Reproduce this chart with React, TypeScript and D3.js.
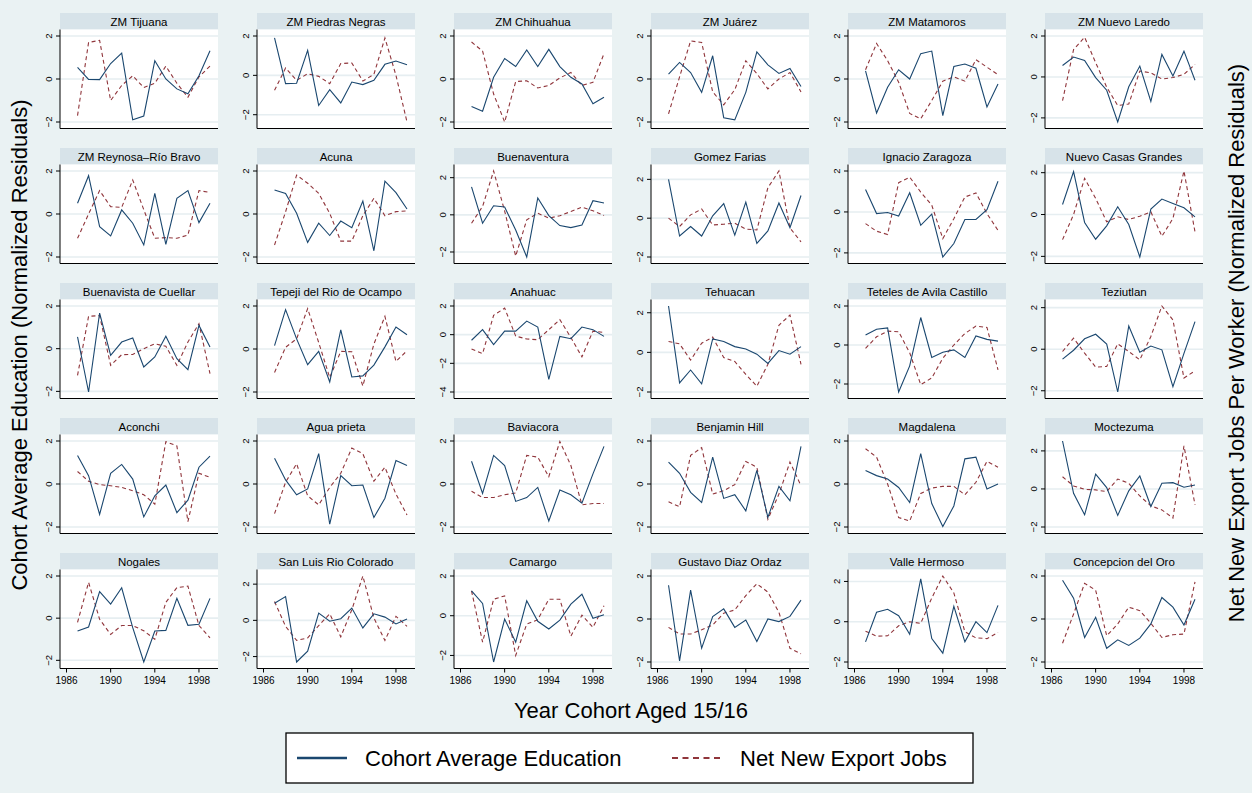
import React from 'react';
import * as d3 from 'd3';

const years = [1987, 1988, 1989, 1990, 1991, 1992, 1993, 1994, 1995, 1996, 1997, 1998, 1999];
const xTickValues = [1986, 1990, 1994, 1998];

const panelNames = [
  'ZM Tijuana', 'ZM Piedras Negras', 'ZM Chihuahua', 'ZM Juárez', 'ZM Matamoros', 'ZM Nuevo Laredo',
  'ZM Reynosa\u2013Río Bravo', 'Acuna', 'Buenaventura', 'Gomez Farias', 'Ignacio Zaragoza', 'Nuevo Casas Grandes',
  'Buenavista de Cuellar', 'Tepeji del Rio de Ocampo', 'Anahuac', 'Tehuacan', 'Teteles de Avila Castillo', 'Teziutlan',
  'Aconchi', 'Agua prieta', 'Baviacora', 'Benjamin Hill', 'Magdalena', 'Moctezuma',
  'Nogales', 'San Luis Rio Colorado', 'Camargo', 'Gustavo Diaz Ordaz', 'Valle Hermoso', 'Concepcion del Oro',
];

// Cohort average education (normalized residuals), one row per panel, 1987..1999
const educationResiduals = [
  [0.54, -0.02, -0.03, 0.72, 1.2, -1.9, -1.72, 0.85, 0.0, -0.46, -0.69, 0.15, 1.31],
  [1.9, -0.42, -0.4, 1.27, -1.53, -0.73, -1.4, -0.34, -0.47, -0.25, 0.56, 0.73, 0.54],
  [-1.28, -1.5, 0.08, 0.95, 0.58, 1.35, 0.58, 1.38, 0.58, 0.08, -0.23, -1.15, -0.85],
  [0.23, 0.77, 0.3, -0.62, 1.08, -1.8, -1.9, -0.62, 1.26, 0.66, 0.26, 0.49, -0.35],
  [0.38, -1.58, -0.38, 0.43, 0.0, 1.18, 1.3, -1.7, 0.58, 0.7, 0.5, -1.3, -0.23],
  [0.56, 0.97, 0.8, -0.03, -0.65, -2.2, -0.48, 0.53, -1.2, 1.1, 0.05, 1.26, -0.16],
  [0.5, 1.78, -0.59, -1.02, 0.19, -0.43, -1.44, 0.96, -1.41, 0.73, 1.09, -0.4, 0.5],
  [1.12, 0.96, 0.03, -1.32, -0.43, -1.0, -0.33, -0.64, 0.6, -1.71, 1.53, 0.99, 0.23],
  [1.51, -0.45, 0.49, 0.42, -0.82, -2.27, 0.91, -0.04, -0.58, -0.69, -0.55, 0.76, 0.64],
  [2.0, -0.92, -0.43, -0.92, 0.12, 0.75, -0.87, 0.83, -1.3, -0.66, 0.78, -0.49, 1.17],
  [1.1, -0.08, -0.03, -0.2, 0.94, -0.65, -0.1, -2.2, -1.54, -0.37, -0.37, 0.11, 1.5],
  [0.48, 2.05, -0.38, -1.18, -0.54, 0.37, -0.48, -2.03, 0.26, 0.74, 0.53, 0.32, -0.11],
  [0.55, -2.03, 1.67, -0.31, 0.31, 0.5, -0.86, -0.39, 0.58, -0.47, -0.98, 1.09, 0.08],
  [0.16, 1.83, 0.47, -0.73, -0.11, -1.53, 0.89, -1.3, -1.25, -0.75, 0.1, 1.02, 0.66],
  [-0.39, 0.35, -0.69, 0.25, 0.25, 0.95, 0.53, -3.12, -0.12, -0.28, 0.53, 0.35, -0.12],
  [2.34, -1.54, -0.89, -1.59, 0.68, 0.55, 0.29, 0.17, -0.09, -0.56, 0.09, -0.09, 0.29],
  [0.51, 0.81, 0.88, -2.41, -1.07, 1.41, -0.64, -0.37, -0.25, -0.64, 0.46, 0.29, 0.2],
  [-0.48, -0.05, 0.5, 0.72, 0.25, -2.06, 1.12, -0.14, 0.15, -0.03, -1.8, -0.2, 1.33],
  [1.33, 0.39, -1.41, 0.5, 0.91, 0.23, -1.53, -0.55, -0.05, -1.33, -0.75, 0.78, 1.3],
  [1.2, 0.19, -0.5, -0.23, 1.41, -1.87, 0.39, -0.08, -0.05, -1.56, -0.66, 1.09, 0.86],
  [1.06, -0.44, 1.33, 0.86, -0.81, -0.63, -0.16, -1.72, -0.28, -0.5, -0.89, 0.47, 1.75],
  [1.02, 0.5, -0.39, -0.86, 1.25, -0.67, -0.5, -1.25, 0.63, -1.55, -0.11, -0.78, 1.75],
  [0.63, 0.39, 0.23, -0.16, -0.86, 1.41, -0.91, -1.98, -1.02, 1.17, 1.25, -0.23, 0.0],
  [2.52, -0.23, -1.36, 0.78, 0.07, -1.39, -0.1, 0.68, -0.92, 0.3, 0.33, 0.09, 0.21],
  [-0.61, -0.42, 1.26, 0.67, 1.44, -0.45, -2.08, -0.61, -0.58, 0.94, -0.34, -0.29, 0.94],
  [0.95, 1.31, -2.3, -1.7, 0.4, -0.05, 0.09, 0.68, -0.42, 0.36, 0.18, -0.2, 0.07],
  [1.25, 0.62, -2.33, -0.17, -1.33, 0.75, -0.28, -0.67, -0.22, 0.58, 1.08, -0.13, 0.05],
  [1.57, -1.95, 1.34, -1.36, 0.11, 0.47, -0.39, -0.05, -1.05, 0.0, -0.12, 0.12, 0.88],
  [-1.0, 0.47, 0.62, 0.3, -0.62, 2.13, -0.84, -1.56, 0.76, -1.0, 0.0, -0.54, 0.81],
  [1.8, 0.97, -0.86, 0.08, -1.36, -0.97, -1.23, -0.89, -0.23, 1.0, 0.55, -0.28, 0.92],
];

// Net new export jobs per worker (normalized residuals), one row per panel, 1987..1999
const exportJobResiduals = [
  [-1.7, 1.7, 1.8, -1.0, -0.3, 0.15, -0.4, -0.2, 0.6, -0.2, -0.85, 0.1, 0.6],
  [-0.76, 0.37, -0.25, 0.08, -0.05, -0.42, 0.6, 0.63, -0.29, 0.05, 1.9, 0.0, -2.37],
  [1.72, 1.3, -0.7, -2.0, -0.12, -0.08, -0.42, -0.3, 0.05, 0.3, -0.3, -0.15, 1.18],
  [-1.62, 0.1, 1.77, 1.7, -0.6, -1.2, -0.5, 0.85, 0.25, -0.46, 0.0, 0.3, -0.6],
  [0.43, 1.65, 0.85, -0.15, -1.6, -1.85, -1.0, -0.1, 0.1, -0.1, 0.9, 0.55, 0.2],
  [-1.16, 1.34, 1.94, 0.7, -0.5, -1.4, -1.32, 0.29, 0.2, -0.1, -0.03, 0.13, 0.61],
  [-1.13, 0.0, 1.09, 0.34, 0.31, 1.58, 0.2, -1.13, -1.1, -1.13, -0.98, 1.09, 1.0],
  [-1.44, 0.1, 1.81, 1.43, 0.96, 0.03, -1.26, -1.26, -0.08, 0.73, -0.08, 0.11, 0.14],
  [-0.45, 0.45, 2.36, 0.2, -2.22, -0.27, 0.09, -0.18, -0.05, 0.18, 0.42, 0.22, -0.04],
  [0.0, -0.43, 0.17, 0.47, -0.35, -0.31, -0.26, -0.56, -0.61, 1.57, 2.43, -0.5, -1.22],
  [-0.57, -0.94, -1.1, 1.43, 1.7, 0.97, 0.33, -1.3, -0.33, 0.73, 0.93, -0.08, -0.9],
  [-1.2, 0.0, 1.73, 0.77, -0.35, -0.11, -0.24, -0.08, 0.13, -1.04, -0.19, 2.08, -0.83],
  [-1.25, 1.52, 1.55, -0.78, -0.28, -0.27, 0.0, 0.23, 0.11, -0.78, 0.31, 1.17, -1.17],
  [-1.09, 0.08, 0.47, 1.88, 0.3, -1.33, -0.11, -0.13, -1.72, 0.23, 1.52, -0.58, -0.08],
  [-1.0, -1.32, 1.35, 1.85, -0.1, -0.3, -0.35, 0.35, 1.05, -0.2, -1.55, 0.25, 0.15],
  [0.55, 0.43, -0.39, 0.46, 0.77, -0.26, -0.46, -1.11, -1.71, -0.6, 1.37, 1.88, -0.6],
  [-0.17, 0.42, 0.71, 0.68, -0.4, -2.03, -1.69, -0.68, 0.0, 0.59, 0.97, 0.9, -1.27],
  [-0.11, 0.53, -0.19, -0.86, -0.83, 0.26, -0.11, -0.51, 0.61, 2.08, 1.41, -1.39, -1.04],
  [0.58, 0.13, -0.03, -0.08, -0.16, -0.31, -0.5, -0.94, 1.97, 1.77, -1.75, 0.5, 0.31],
  [-1.38, 0.08, 0.94, -0.55, -0.97, -0.16, 0.5, 1.67, 1.41, 0.13, 0.78, -0.47, -1.44],
  [-0.34, -0.63, -0.63, -0.5, -0.42, 1.33, 1.25, 0.34, 1.98, 0.86, -0.97, -0.91, -0.91],
  [-0.83, -1.06, 1.33, 1.69, -0.47, -0.31, -0.03, 1.05, 0.78, -1.64, -0.47, 1.02, -0.08],
  [1.64, 1.25, 0.0, -1.56, -1.72, -0.44, -0.19, -0.11, -0.11, -0.5, 0.08, 1.05, 0.78],
  [0.64, 0.16, -0.02, -0.05, -0.14, 0.52, 0.3, -0.37, -0.89, -1.1, -1.53, 2.26, -0.83],
  [-0.2, 1.7, -0.05, -0.77, -0.35, -0.35, -0.6, -1.0, 0.75, 1.45, 1.52, -0.35, -0.93],
  [1.04, -0.33, -1.11, -0.97, -0.29, 0.36, -0.91, 0.58, 2.45, 0.13, -1.11, 0.22, -0.33],
  [1.25, -1.33, 0.83, 1.0, -2.0, -0.42, -0.2, 0.83, 0.83, -1.03, 0.03, -0.58, 0.5],
  [-0.39, -0.7, -0.7, -0.5, -0.28, 0.27, 0.42, 1.09, 1.64, 1.25, 0.31, -1.36, -1.62],
  [-0.47, -0.72, -0.7, -0.2, 0.0, -0.08, 1.18, 2.27, 1.43, -0.5, -0.8, -0.84, -0.54],
  [-1.13, 0.23, 1.66, 1.34, -0.78, -0.23, 0.55, 0.39, -0.2, -0.86, -0.73, -0.7, 1.73],
];

const seriesLabels = ['Cohort Average Education', 'Net New Export Jobs'];
const leftTitle = 'Cohort Average Education (Normalized Residuals)';
const rightTitle = 'Net New Export Jobs Per Worker (Normalized Residuals)';
const xTitle = 'Year Cohort Aged 15/16';

const FONT = '"Liberation Sans", Arial, Helvetica, sans-serif';
const BG = '#EAF2F3';
const STRIP = '#D7E3E9';
const GRID = '#E6EEF1';
const BLUE = '#1A476F';
const RED = '#90353B';

const W = 1252;
const H = 793;
const NCOL = 6;
const COL_X0 = 60;
const COL_PITCH = 197;
const PLOT_W = 158;
const ROW_Y0 = 13;
const ROW_PITCH = 135;
const STRIP_H = 16.5;
const PLOT_H = 99;
const PAD = 6.5;

function Panel({ idx }: { idx: number }) {
  const col = idx % NCOL;
  const row = Math.floor(idx / NCOL);
  const x0 = COL_X0 + col * COL_PITCH;
  const stripTop = ROW_Y0 + row * ROW_PITCH;
  const top = stripTop + STRIP_H;
  const bottom = top + PLOT_H;
  const edu = educationResiduals[idx];
  const exp = exportJobResiduals[idx];
  const all = edu.concat(exp);
  const dMin = d3.min(all) as number;
  const dMax = d3.max(all) as number;
  const tMin = Math.round(dMin / 2) * 2;
  const tMax = Math.round(dMax / 2) * 2;
  const ticks = d3.range(tMin, tMax + 0.001, 2);
  const lo = Math.min(dMin, tMin);
  const hi = Math.max(dMax, tMax);
  const x = d3.scaleLinear().domain([1986, 1999]).range([x0 + PAD, x0 + PLOT_W - 8]);
  const y = d3.scaleLinear().domain([lo, hi]).range([bottom - PAD, top + PAD]);
  const line = d3.line<number>().x((_, i) => x(years[i])).y((d) => y(d));
  const isBottom = row === 4;
  return (
    <g>
      <rect x={x0} y={stripTop} width={PLOT_W} height={STRIP_H} fill={STRIP} />
      <text x={x0 + PLOT_W / 2} y={stripTop + STRIP_H / 2 + 0.5} textAnchor="middle" dominantBaseline="central" fontSize={11.5} fill="#000">
        {panelNames[idx]}
      </text>
      <rect x={x0} y={top} width={PLOT_W} height={PLOT_H} fill="#fff" />
      {ticks.map((t) => (
        <line key={'g' + t} x1={x0} x2={x0 + PLOT_W} y1={y(t)} y2={y(t)} stroke={GRID} strokeWidth={1.6} />
      ))}
      <path d={line(exp) || ''} fill="none" stroke={RED} strokeWidth={1.1} strokeDasharray="4,3" />
      <path d={line(edu) || ''} fill="none" stroke={BLUE} strokeWidth={1.1} />
      <line x1={x0} x2={x0} y1={top} y2={bottom} stroke="#000" strokeWidth={1} />
      <line x1={x0} x2={x0 + PLOT_W} y1={bottom} y2={bottom} stroke="#000" strokeWidth={1} />
      {ticks.map((t) => (
        <g key={'t' + t}>
          <line x1={x0 - 4} x2={x0} y1={y(t)} y2={y(t)} stroke="#000" strokeWidth={1} />
          <text
            transform={`translate(${x0 - 8.5},${y(t)}) rotate(-90)`}
            textAnchor="middle"
            fontSize={9.5}
            fill="#000"
          >
            {t < 0 ? '\u2212' + Math.abs(t) : String(t)}
          </text>
        </g>
      ))}
      {isBottom &&
        xTickValues.map((t) => (
          <g key={'x' + t}>
            <line x1={x(t)} x2={x(t)} y1={bottom} y2={bottom + 4} stroke="#000" strokeWidth={1} />
            <text x={x(t)} y={bottom + 15.5} textAnchor="middle" fontSize={10} fill="#000">
              {t}
            </text>
          </g>
        ))}
    </g>
  );
}

export default function App() {
  const legendX = 286;
  const legendY = 733;
  const legendW = 687;
  const legendH = 50;
  const ly = legendY + legendH / 2;
  return (
    <svg
      width={W}
      height={H}
      viewBox={`0 0 ${W} ${H}`}
      style={{ position: 'absolute', left: 0, top: 0, display: 'block' }}
      fontFamily={FONT}
    >
      <rect x={0} y={0} width={W} height={H} fill={BG} />
      {panelNames.map((_, i) => (
        <Panel key={i} idx={i} />
      ))}
      <text transform={`translate(19,345) rotate(-90)`} textAnchor="middle" dominantBaseline="central" fontSize={22} fill="#000">
        {leftTitle}
      </text>
      <text transform={`translate(1236,343) rotate(-90)`} textAnchor="middle" dominantBaseline="central" fontSize={22} fill="#000">
        {rightTitle}
      </text>
      <text x={631} y={710} textAnchor="middle" dominantBaseline="central" fontSize={22} fill="#000">
        {xTitle}
      </text>
      <rect x={legendX} y={legendY} width={legendW} height={legendH} fill="#fff" stroke="#000" strokeWidth={1.3} />
      <line x1={297} x2={347} y1={ly} y2={ly} stroke={BLUE} strokeWidth={2.5} />
      <text x={365} y={ly} dominantBaseline="central" fontSize={22} fill="#000">
        {seriesLabels[0]}
      </text>
      <line x1={672} x2={724} y1={ly} y2={ly} stroke={RED} strokeWidth={2.2} strokeDasharray="6,4.5" />
      <text x={740} y={ly} dominantBaseline="central" fontSize={22} fill="#000">
        {seriesLabels[1]}
      </text>
    </svg>
  );
}
